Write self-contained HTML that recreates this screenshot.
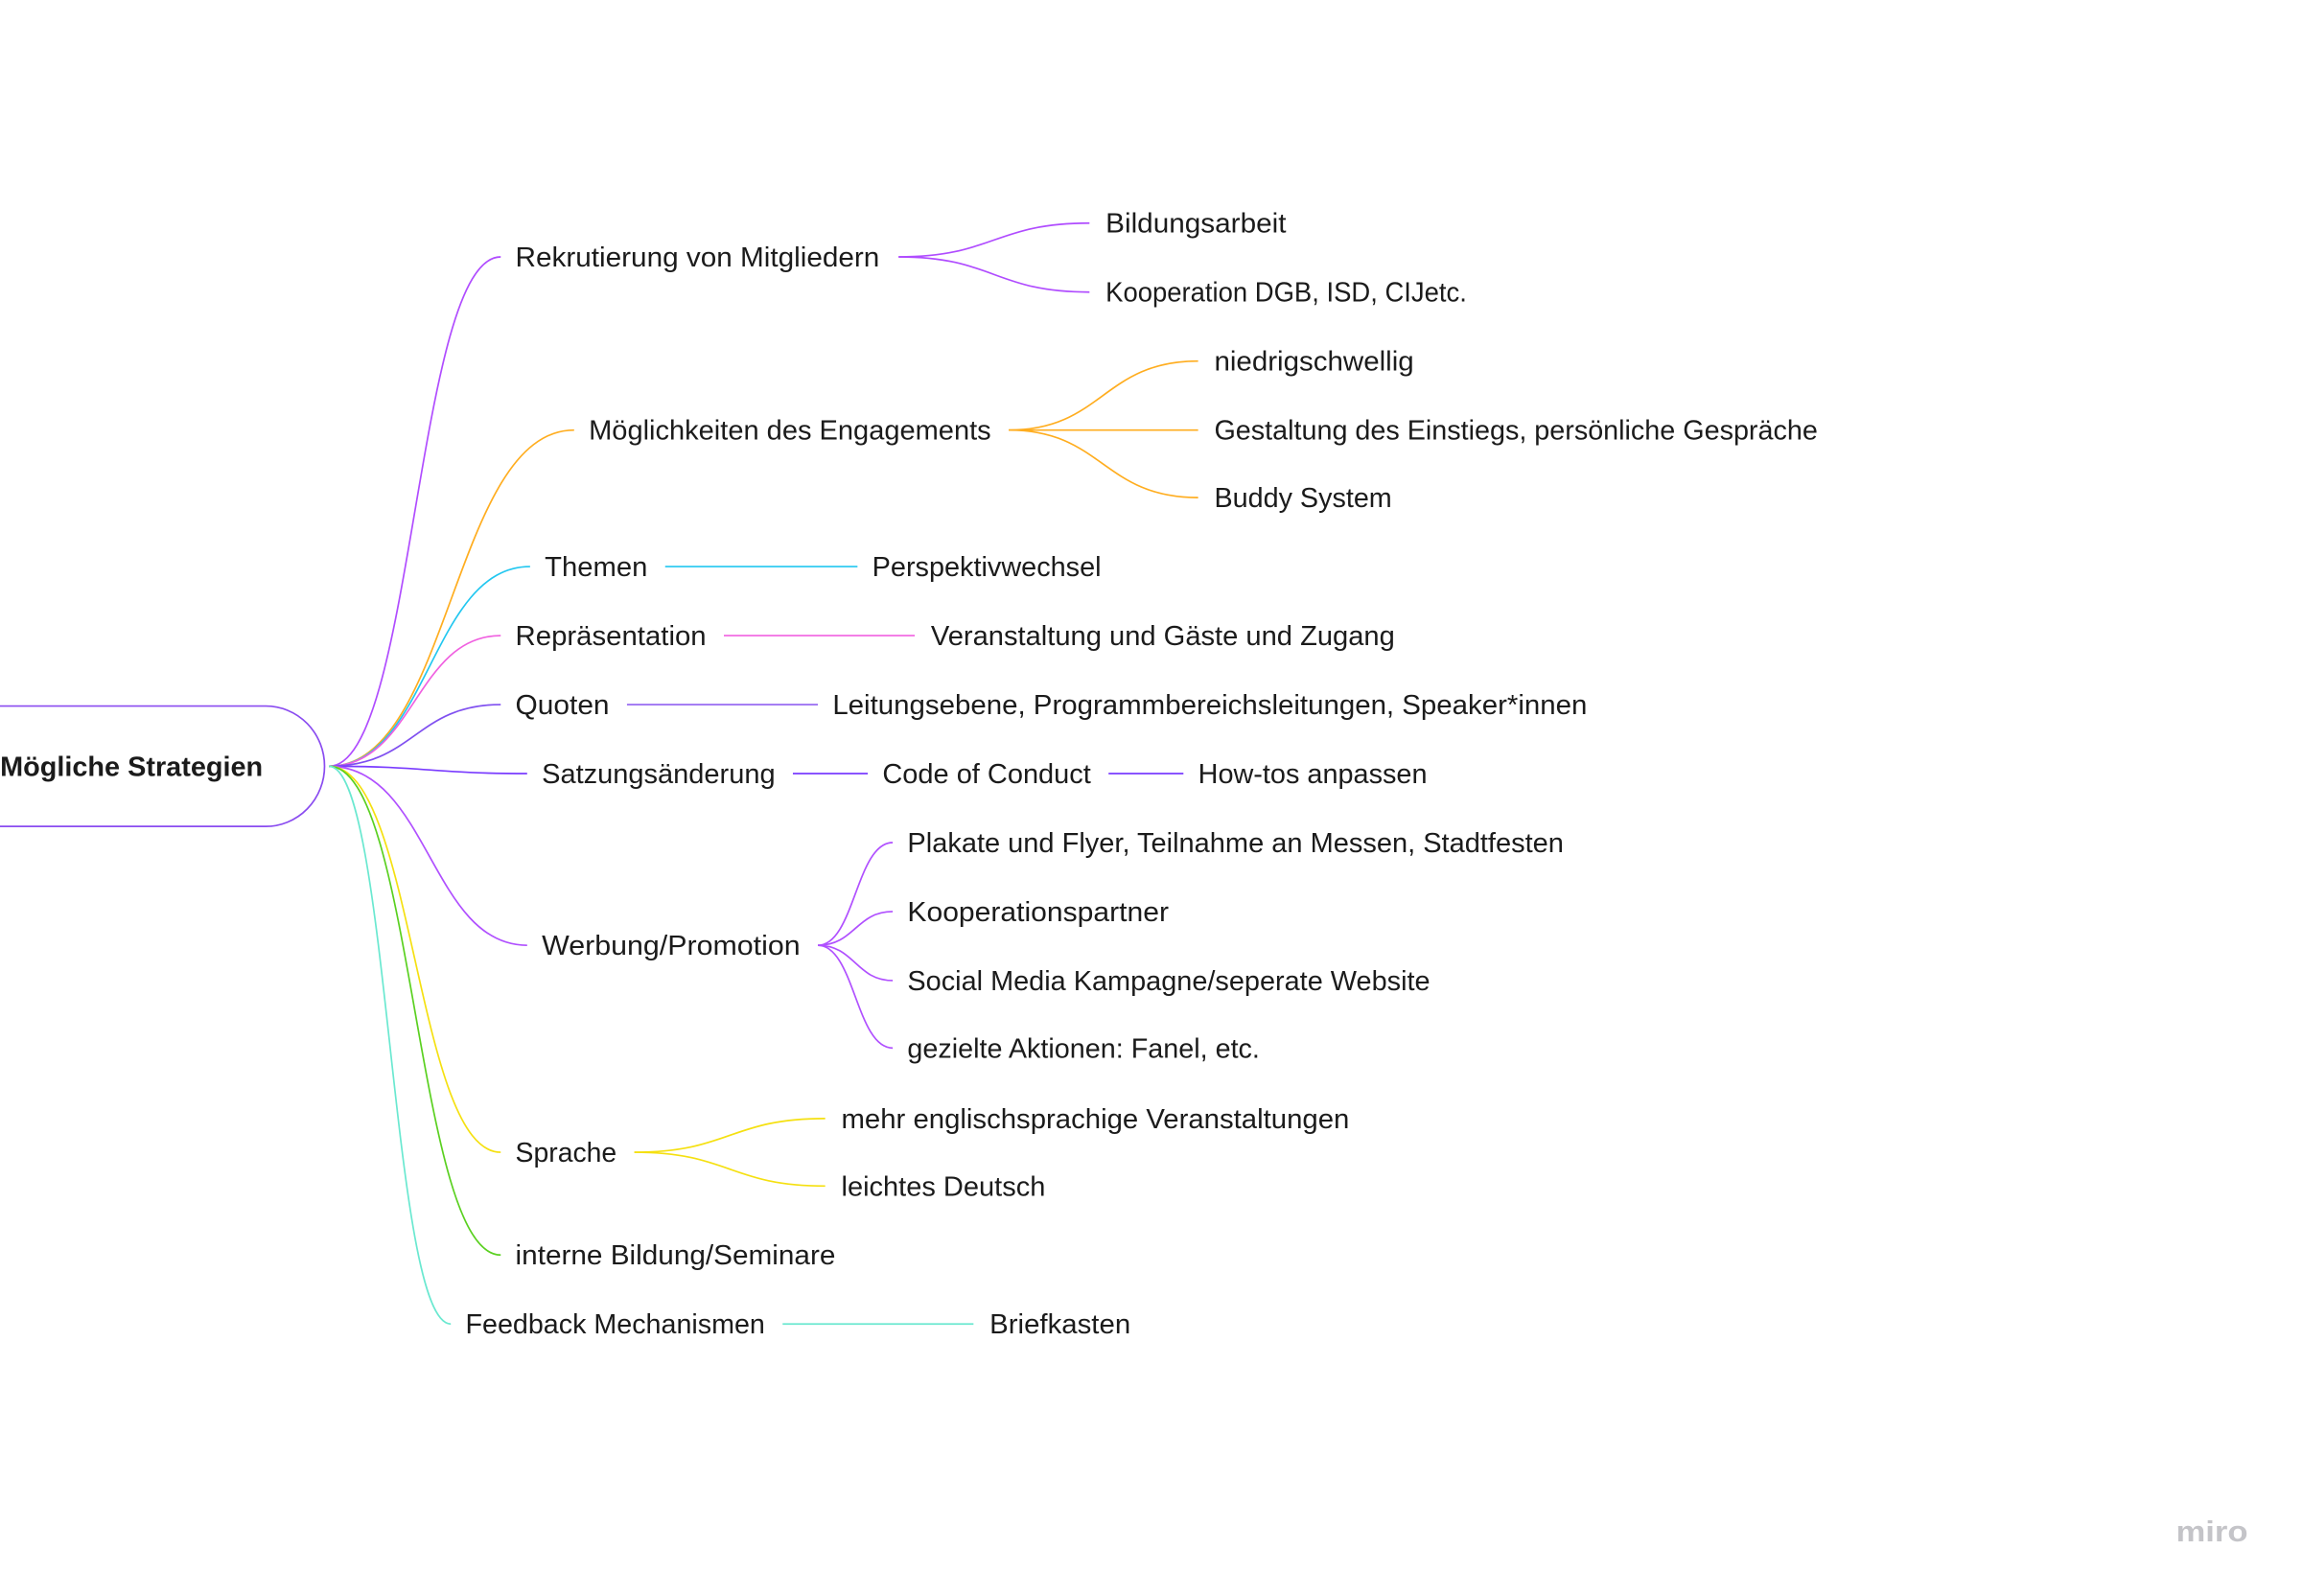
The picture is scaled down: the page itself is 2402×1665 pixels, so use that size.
<!DOCTYPE html>
<html><head><meta charset="utf-8"><style>
html,body{margin:0;padding:0;background:#fff;}
svg{display:block}
text{font-family:"Liberation Sans",sans-serif;font-size:18.5px;fill:#1b1b1b;}
path,line{fill:none;stroke-width:1.1}
</style></head><body>
<svg width="2402" height="1665" viewBox="0 0 1568.5 1087.3" xmlns="http://www.w3.org/2000/svg">
<rect width="1570" height="1090" fill="#fff"/>
<!-- root -->
<path d="M-5 481 H181 A40 41 0 0 1 181 563 H-5" stroke="#8a4cf0" fill="#fff"/>
<text x="0" y="528.5" font-weight="bold" textLength="179" lengthAdjust="spacingAndGlyphs">Mögliche Strategien</text>

<path d="M224 522 C282 522 283 175 341 175" stroke="#b04cff"/>
<path d="M224 522 C307 522 308 293 391 293" stroke="#ffad1f"/>
<path d="M224 522 C292 522 293 386 361 386" stroke="#22c7f0"/>
<path d="M224 522 C282 522 283 433 341 433" stroke="#f060e0"/>
<path d="M224 522 C282 522 283 480 341 480" stroke="#8050f0"/>
<path d="M224 522 C292 522 293 527 359 527" stroke="#7a3cff"/>
<path d="M224 522 C292 522 293 644 359 644" stroke="#b050ff"/>
<path d="M224 522 C282 522 283 785 341 785" stroke="#f5e010"/>
<path d="M224 522 C282 522 283 855 341 855" stroke="#5ad020"/>
<path d="M224 522 C265 522 266 902 307 902" stroke="#6ae8d0"/>

<text x="351" y="181.5" textLength="248" lengthAdjust="spacingAndGlyphs">Rekrutierung von Mitgliedern</text>
<path d="M612 175 C677 175 677 152 742 152" stroke="#b04cff"/>
<path d="M612 175 C677 175 677 199 742 199" stroke="#b04cff"/>
<text x="753" y="158.5" textLength="123" lengthAdjust="spacingAndGlyphs">Bildungsarbeit</text>
<text x="753" y="205.5" textLength="246" lengthAdjust="spacingAndGlyphs">Kooperation DGB, ISD, CIJetc.</text>

<text x="401" y="299.5" textLength="274" lengthAdjust="spacingAndGlyphs">Möglichkeiten des Engagements</text>
<path d="M687 293 C751 293 751 246 816 246" stroke="#ffad1f"/>
<line x1="687" y1="293" x2="816" y2="293" stroke="#ffad1f"/>
<path d="M687 293 C751 293 751 339 816 339" stroke="#ffad1f"/>
<text x="827" y="252.5" textLength="136" lengthAdjust="spacingAndGlyphs">niedrigschwellig</text>
<text x="827" y="299.5" textLength="411" lengthAdjust="spacingAndGlyphs">Gestaltung des Einstiegs, persönliche Gespräche</text>
<text x="827" y="345.5" textLength="121" lengthAdjust="spacingAndGlyphs">Buddy System</text>

<text x="371" y="392.5" textLength="70" lengthAdjust="spacingAndGlyphs">Themen</text>
<line x1="453" y1="386" x2="584" y2="386" stroke="#22c7f0"/>
<text x="594" y="392.5" textLength="156" lengthAdjust="spacingAndGlyphs">Perspektivwechsel</text>

<text x="351" y="439.5" textLength="130" lengthAdjust="spacingAndGlyphs">Repräsentation</text>
<line x1="493" y1="433" x2="623" y2="433" stroke="#f060e0"/>
<text x="634" y="439.5" textLength="316" lengthAdjust="spacingAndGlyphs">Veranstaltung und Gäste und Zugang</text>

<text x="351" y="486.5" textLength="64" lengthAdjust="spacingAndGlyphs">Quoten</text>
<line x1="427" y1="480" x2="557" y2="480" stroke="#9060f0"/>
<text x="567" y="486.5" textLength="514" lengthAdjust="spacingAndGlyphs">Leitungsebene, Programmbereichsleitungen, Speaker*innen</text>

<text x="369" y="533.5" textLength="159" lengthAdjust="spacingAndGlyphs">Satzungsänderung</text>
<line x1="540" y1="527" x2="591" y2="527" stroke="#7a3cff"/>
<text x="601" y="533.5" textLength="142" lengthAdjust="spacingAndGlyphs">Code of Conduct</text>
<line x1="755" y1="527" x2="806" y2="527" stroke="#7a3cff"/>
<text x="816" y="533.5" textLength="156" lengthAdjust="spacingAndGlyphs">How-tos anpassen</text>

<text x="369" y="650.5" textLength="176" lengthAdjust="spacingAndGlyphs">Werbung/Promotion</text>
<path d="M557 644 C582 644 583 574 608 574" stroke="#b050ff"/>
<path d="M557 644 C582 644 583 621 608 621" stroke="#b050ff"/>
<path d="M557 644 C582 644 583 668 608 668" stroke="#b050ff"/>
<path d="M557 644 C582 644 583 714 608 714" stroke="#b050ff"/>
<text x="618" y="580.5" textLength="447" lengthAdjust="spacingAndGlyphs">Plakate und Flyer, Teilnahme an Messen, Stadtfesten</text>
<text x="618" y="627.5" textLength="178" lengthAdjust="spacingAndGlyphs">Kooperationspartner</text>
<text x="618" y="674.5" textLength="356" lengthAdjust="spacingAndGlyphs">Social Media Kampagne/seperate Website</text>
<text x="618" y="720.5" textLength="240" lengthAdjust="spacingAndGlyphs">gezielte Aktionen: Fanel, etc.</text>

<text x="351" y="791.5" textLength="69" lengthAdjust="spacingAndGlyphs">Sprache</text>
<path d="M432 785 C497 785 497 762 562 762" stroke="#f5e010"/>
<path d="M432 785 C497 785 497 808 562 808" stroke="#f5e010"/>
<text x="573" y="768.5" textLength="346" lengthAdjust="spacingAndGlyphs">mehr englischsprachige Veranstaltungen</text>
<text x="573" y="814.5" textLength="139" lengthAdjust="spacingAndGlyphs">leichtes Deutsch</text>

<text x="351" y="861.5" textLength="218" lengthAdjust="spacingAndGlyphs">interne Bildung/Seminare</text>

<text x="317" y="908.5" textLength="204" lengthAdjust="spacingAndGlyphs">Feedback Mechanismen</text>
<line x1="533" y1="902" x2="663" y2="902" stroke="#6ae8d0"/>
<text x="674" y="908.5" textLength="96" lengthAdjust="spacingAndGlyphs">Briefkasten</text>

<text x="1482" y="1050" textLength="49" lengthAdjust="spacingAndGlyphs" style="fill:#c4c4c8;font-size:20px;font-weight:bold">miro</text>
</svg>
</body></html>
